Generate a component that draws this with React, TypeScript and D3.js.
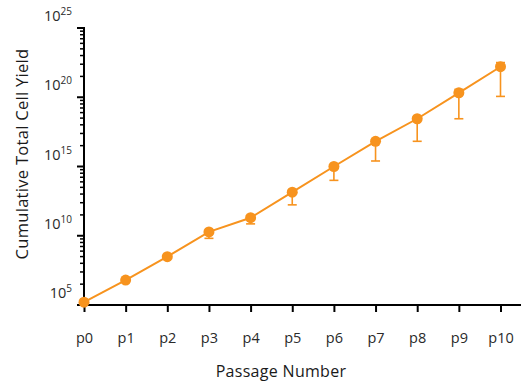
import * as d3 from "d3";
import { useRef, useEffect } from "react";

const passages = ["p0", "p1", "p2", "p3", "p4", "p5", "p6", "p7", "p8", "p9", "p10"];
const yieldMean = [1.6e5, 6.3e6, 3.1e8, 1.9e10, 2.0e11, 1.4e13, 1.0e15, 6.6e16, 2.8e18, 2.1e20, 1.6e22];
const yieldLow = [1.6e5, 6.3e6, 3.1e8, 6.5e9, 7.2e10, 1.7e12, 1.0e14, 2.5e15, 6.6e16, 2.8e18, 1.15e20];
const yieldHigh = [1.6e5, 6.3e6, 3.1e8, 1.9e10, 2.0e11, 1.4e13, 1.0e15, 7.2e16, 3.3e18, 3.7e20, 3.2e22];
const majorExps = [5, 10, 15, 20, 25];

export default function App({
  width = 521,
  height = 381,
  marginTop = 28,
  marginBottom = 76,
  marginLeft = 84,
  color = "#F7931E",
}) {
  const svgRef = useRef(null);

  useEffect(() => {
    const svg = d3.select(svgRef.current);
    svg.selectAll("*").remove();
    svg.attr("width", width).attr("height", height).attr("viewBox", [0, 0, width, height]);

    const font = "'Open Sans', 'Noto Sans', sans-serif";
    const data = passages.map((p, i) => ({ p, v: yieldMean[i], lo: yieldLow[i], hi: yieldHigh[i] }));

    const x = d3.scalePoint().domain(passages).range([marginLeft, 500.5]);
    const y = d3.scaleLog().domain([1e5, 1e25]).range([height - marginBottom, marginTop]);
    const y0 = height - marginBottom;

    // x axis
    svg.append("g")
      .attr("transform", `translate(0,${y0})`)
      .call(d3.axisBottom(x).tickSize(7).tickPadding(21))
      .call(g => g.select(".domain").attr("d", `M${marginLeft - 7},0H${width}`).attr("stroke-width", 2))
      .call(g => g.selectAll(".tick line").attr("stroke-width", 2))
      .call(g => g.selectAll(".tick text")
        .attr("font-family", font).attr("font-size", 14.5).attr("fill", "#2a2a2a"));

    // y axis
    const minor = [];
    majorExps.slice(0, -1).forEach(e => {
      for (let k = 2; k <= 9; k++) minor.push(Math.pow(10, e) * Math.pow(k, 5));
    });
    const ya = svg.append("g").attr("transform", `translate(${marginLeft},0)`);
    ya.append("line")
      .attr("y1", y(1e25) - 1).attr("y2", y0)
      .attr("stroke", "black").attr("stroke-width", 2);
    ya.selectAll(".minor").data(minor).join("line")
      .attr("class", "minor")
      .attr("x1", -4).attr("x2", 0)
      .attr("y1", d => y(d)).attr("y2", d => y(d))
      .attr("stroke", "black").attr("stroke-width", 1.5);
    ya.selectAll(".major").data(majorExps).join("line")
      .attr("class", "major")
      .attr("x1", -7).attr("x2", 0)
      .attr("y1", d => y(Math.pow(10, d))).attr("y2", d => y(Math.pow(10, d)))
      .attr("stroke", "black").attr("stroke-width", 2);
    const lab = ya.selectAll(".lab").data(majorExps).join("text")
      .attr("class", "lab")
      .attr("x", -12)
      .attr("y", d => y(Math.pow(10, d)) - 7)
      .attr("text-anchor", "end")
      .attr("font-family", font).attr("fill", "#2a2a2a");
    lab.append("tspan").attr("font-size", 14.5).text("10");
    lab.append("tspan").attr("font-size", 10).attr("dy", -6).text(d => d);

    // titles
    svg.append("text")
      .attr("x", 281).attr("y", 377)
      .attr("text-anchor", "middle")
      .attr("font-family", font).attr("font-size", 16).attr("fill", "#1a1a1a")
      .attr("letter-spacing", 0.3)
      .text("Passage Number");
    svg.append("text")
      .attr("transform", `translate(28,${154}) rotate(-90)`)
      .attr("text-anchor", "middle")
      .attr("font-family", font).attr("font-size", 16.5).attr("fill", "#1a1a1a")
      .attr("letter-spacing", 0.3)
      .text("Cumulative Total Cell Yield");

    // error bars
    const eb = svg.append("g").attr("stroke", color).attr("stroke-width", 1.6).attr("fill", "none");
    data.forEach(d => {
      const cx = x(d.p);
      eb.append("line").attr("x1", cx).attr("x2", cx).attr("y1", y(d.hi)).attr("y2", y(d.lo));
      if (y(d.lo) - y(d.v) > 5) eb.append("line").attr("x1", cx - 4.5).attr("x2", cx + 4.5).attr("y1", y(d.lo)).attr("y2", y(d.lo));
      if (y(d.v) - y(d.hi) > 3) eb.append("line").attr("x1", cx - 4.5).attr("x2", cx + 4.5).attr("y1", y(d.hi)).attr("y2", y(d.hi));
    });

    // line
    svg.append("path")
      .datum(data)
      .attr("fill", "none")
      .attr("stroke", color)
      .attr("stroke-width", 2)
      .attr("d", d3.line().x(d => x(d.p)).y(d => y(d.v)));

    svg.append("g")
      .attr("fill", color)
      .selectAll("circle")
      .data(data)
      .join("circle")
      .attr("cx", d => x(d.p))
      .attr("cy", d => y(d.v))
      .attr("r", 5.5);
  }, []);

  return (
    <svg ref={svgRef} style={{ position: "absolute", left: 0, top: 0 }} />
  );
}
